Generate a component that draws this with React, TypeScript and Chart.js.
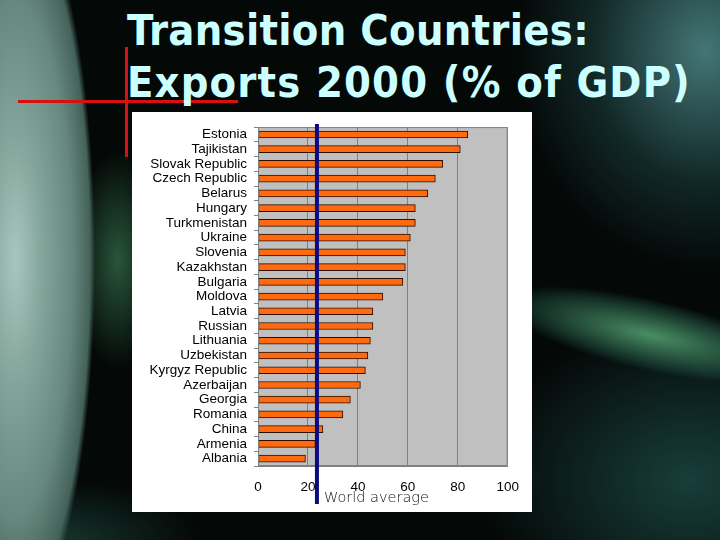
import React, { useEffect, useRef } from "react";
import { Chart, registerables } from "chart.js";

Chart.register(...registerables);

const countries = [
  "Estonia", "Tajikistan", "Slovak Republic", "Czech Republic", "Belarus",
  "Hungary", "Turkmenistan", "Ukraine", "Slovenia", "Kazakhstan", "Bulgaria",
  "Moldova", "Latvia", "Russian", "Lithuania", "Uzbekistan", "Kyrgyz Republic",
  "Azerbaijan", "Georgia", "Romania", "China", "Armenia", "Albania",
];
const exportsPct = [84, 81, 74, 71, 68, 63, 63, 61, 59, 59, 58, 50, 46, 46, 45, 44, 43, 41, 37, 34, 26, 23, 19];
const worldAverage = 23.6;
const xTicks = [0, 20, 40, 60, 80, 100];
const titleLines = ["Transition Countries:", "Exports 2000 (% of GDP)"];
const titleSpacing = [0.3, 1.15];
const annotationLabel = "World average";

const AXIS_FONT = { family: "'Liberation Sans', Arial, sans-serif", size: 13.5 };

const plotPlugin = {
  id: "plotDecor",
  beforeDraw(chart: any) {
    const { ctx, chartArea: a } = chart;
    ctx.save();
    ctx.fillStyle = "#c0c0c0";
    ctx.fillRect(a.left, a.top, a.right - a.left, a.bottom - a.top);
    ctx.restore();
  },
  afterDraw(chart: any) {
    const { ctx, chartArea: a } = chart;
    ctx.save();
    ctx.strokeStyle = "#808080";
    ctx.lineWidth = 1;
    ctx.strokeRect(a.left + 0.5, a.top + 0.5, a.right - a.left - 1, a.bottom - a.top - 1);
    const px = chart.scales.x.getPixelForValue(worldAverage);
    ctx.strokeStyle = "#0b0b7e";
    ctx.lineWidth = 4;
    ctx.beginPath();
    ctx.moveTo(px, a.top - 3);
    ctx.lineTo(px, a.bottom + 38);
    ctx.stroke();
    ctx.fillStyle = "#111111";
    ctx.font = "200 14.5px 'DejaVu Sans ExtraLight', 'DejaVu Sans', sans-serif";
    ctx.textBaseline = "alphabetic";
    ctx.textAlign = "left";
    ctx.fillText(annotationLabel, px + 7, a.bottom + 36);
    ctx.restore();
  },
};

export default function App() {
  const ref = useRef<HTMLCanvasElement>(null);

  useEffect(() => {
    if (!ref.current) return;
    const chart = new Chart(ref.current, {
      type: "bar",
      data: {
        labels: countries,
        datasets: [
          {
            data: exportsPct,
            backgroundColor: "#ff6a10",
            borderColor: "#2a0e00",
            borderWidth: 1,
            borderSkipped: false,
            barThickness: 7,
          },
        ],
      },
      options: {
        indexAxis: "y",
        animation: false,
        responsive: false,
        maintainAspectRatio: false,
        layout: { padding: { left: 0, right: 24, top: 11, bottom: 0 } },
        plugins: { legend: { display: false }, tooltip: { enabled: false } },
        scales: {
          x: {
            min: 0,
            max: 100,
            afterBuildTicks: (s: any) => {
              s.ticks = xTicks.map((v) => ({ value: v }));
            },
            grid: { color: "#808080", lineWidth: 1, drawTicks: false },
            border: { display: true, color: "#808080" },
            ticks: { color: "#000", font: AXIS_FONT, padding: 13 },
            afterFit: (s: any) => {
              s.height = 46;
            },
          },
          y: {
            grid: { display: true, drawOnChartArea: false, tickLength: 4, color: "#808080", offset: true },
            border: { display: true, color: "#808080" },
            ticks: { color: "#000", font: AXIS_FONT, padding: 7, autoSkip: false },
            afterFit: (s: any) => {
              s.width = 126;
            },
          },
        },
      },
      plugins: [plotPlugin],
    } as any);
    return () => chart.destroy();
  }, []);

  const bg = [
    "radial-gradient(ellipse 80px 360px at 15px 260px, #a9c6be 0%, #83a49a 35%, #66877d 72%, #44625a 94%, rgba(0,0,0,0) 100%)",
    "radial-gradient(ellipse 45px 110px at 118px 260px, rgba(70,150,100,0.55), rgba(0,0,0,0) 100%)",
    "radial-gradient(ellipse 190px 220px at 705px 50px, rgba(75,130,130,0.9), rgba(30,70,70,0.5) 60%, rgba(0,0,0,0) 100%)",
    "radial-gradient(ellipse 210px 160px at 690px 480px, rgba(30,80,75,0.75), rgba(0,0,0,0) 100%)",
    "radial-gradient(ellipse 140px 60px at 60px 540px, rgba(30,70,60,0.7), rgba(0,0,0,0) 100%)",
    "#040807",
  ].join(", ");

  return (
    <div
      style={{
        position: "fixed",
        left: 0,
        top: 0,
        width: 720,
        height: 540,
        overflow: "hidden",
        background: bg,
      }}
    >
      <div
        style={{
          position: "absolute",
          left: 500,
          top: 300,
          width: 300,
          height: 70,
          transform: "rotate(13deg)",
          background: "radial-gradient(ellipse at center, rgba(85,165,115,0.85), rgba(40,100,80,0.4) 55%, rgba(0,0,0,0) 72%)",
        }}
      />
      <div style={{ position: "absolute", left: 125, top: 47, width: 3, height: 110, background: "#d81010" }} />
      <div style={{ position: "absolute", left: 18, top: 100, width: 220, height: 3, background: "#d81010" }} />
      <div
        style={{
          position: "absolute",
          left: 127,
          top: 4,
          color: "#ccffff",
          fontFamily: "'DejaVu Sans Condensed', 'DejaVu Sans', sans-serif",
          fontStretch: "condensed",
          fontWeight: "bold",
          fontSize: 43,
          lineHeight: "52px",
          whiteSpace: "pre",
        }}
      >
        {titleLines.map((l, i) => (
          <div key={l} style={{ letterSpacing: titleSpacing[i] }}>
            {l}
          </div>
        ))}
      </div>
      <div style={{ position: "absolute", left: 132, top: 112, width: 400, height: 400, background: "#ffffff" }}>
        <canvas ref={ref} width={400} height={400} style={{ display: "block" }} />
      </div>
    </div>
  );
}
